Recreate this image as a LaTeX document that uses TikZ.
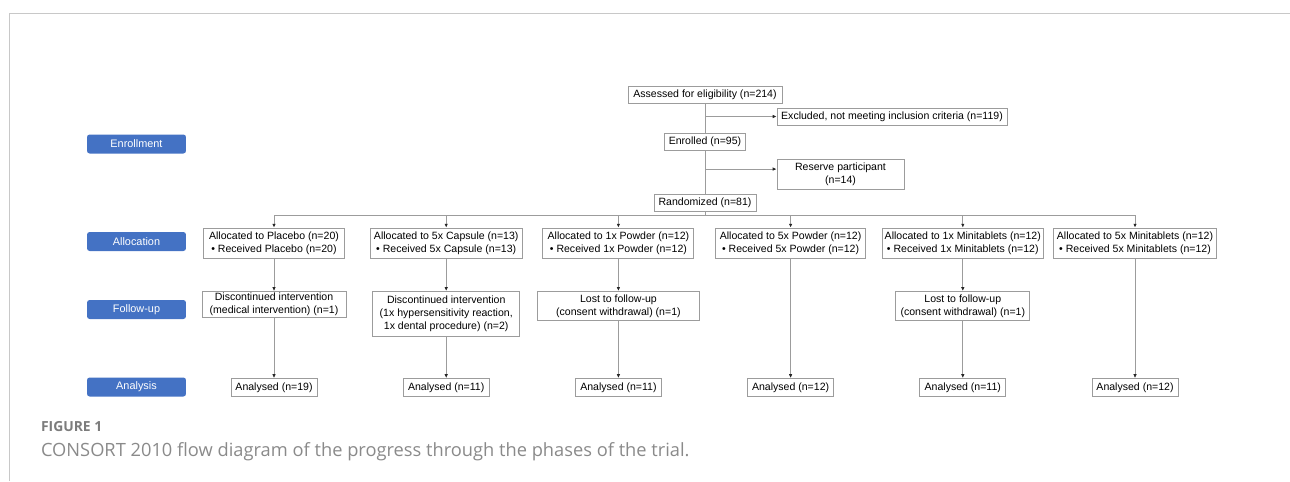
\documentclass[tikz,border=0pt]{standalone}
\usepackage{fontspec}
\setmainfont{Liberation Sans}
\newfontfamily\capfont{Open Sans}
\usetikzlibrary{arrows.meta}
\definecolor{phaseblue}{HTML}{4472C4}
\definecolor{linegray}{HTML}{9C9C9C}
\definecolor{framegray}{HTML}{C8C8C8}
\definecolor{capgray}{HTML}{8A8A8A}

\begin{document}
\begin{tikzpicture}[x=0.02cm, y=-0.02cm,
  box/.style={draw=linegray, line width=0.5pt, align=center, inner sep=1pt,
    font=\fontsize{6}{7.4}\selectfont},
  phase/.style={fill=phaseblue, rounded corners=1.5pt, text=white, inner sep=0pt,
    minimum width=1.98cm, minimum height=0.38cm, font=\fontsize{6.2}{7}\selectfont},
  ln/.style={draw=linegray, line width=0.5pt},
  arr/.style={ln, -{Latex[length=2.2pt,width=2pt,color=black!85]}}]
  \useasboundingbox (0,0) rectangle (1290,481);
  \draw[framegray, line width=0.6pt] (9.5,481) -- (9.5,13.5) -- (1290,13.5);

  % phases
  \node[phase] (penrol) at (136.5,144) {Enrollment};
  \node[phase] (palloc) at (136.5,241.5) {Allocation};
  \node[phase] (pfollow) at (136.5,309.5) {Follow-up};
  \node[phase] (panal) at (136.5,387) {Analysis};

  % enrollment
  \node[box, minimum width=3.08cm, minimum height=0.33cm] (assess) at (705,95) {Assessed for eligibility (n=214)};
  \node[box, minimum width=4.6cm, minimum height=0.34cm] (excl) at (892,116.5) {Excluded, not meeting inclusion criteria (n=119)};
  \node[box, minimum width=1.62cm, minimum height=0.34cm] (enrol) at (705,141.5) {Enrolled (n=95)};
  \node[box, minimum width=2.54cm, minimum height=0.6cm] (resv) at (840.5,174) {Reserve participant\\(n=14)};
  \node[box, minimum width=2.04cm, minimum height=0.34cm] (rand) at (705,202.5) {Randomized (n=81)};
  \coordinate (split) at (705,215);
  \coordinate (rs) at ([yshift=2.8pt]resv.west);

  % allocation
  \node[box, minimum width=2.82cm, minimum height=0.61cm] (a1) at (274,243.3) {Allocated to Placebo (n=20)\\\textbullet\ Received Placebo (n=20)};
  \node[box, minimum width=3.04cm, minimum height=0.61cm] (a2) at (446.2,243.3) {Allocated to 5x Capsule (n=13)\\\textbullet\ Received 5x Capsule (n=13)};
  \node[box, minimum width=3.02cm, minimum height=0.61cm] (a3) at (618.4,243.3) {Allocated to 1x Powder (n=12)\\\textbullet\ Received 1x Powder (n=12)};
  \node[box, minimum width=3.0cm, minimum height=0.61cm] (a4) at (790.6,243.3) {Allocated to 5x Powder (n=12)\\\textbullet\ Received 5x Powder (n=12)};
  \node[box, minimum width=3.22cm, minimum height=0.61cm] (a5) at (962.8,243.3) {Allocated to 1x Minitablets (n=12)\\\textbullet\ Received 1x Minitablets (n=12)};
  \node[box, minimum width=3.26cm, minimum height=0.61cm] (a6) at (1135,243.3) {Allocated to 5x Minitablets (n=12)\\\textbullet\ Received 5x Minitablets (n=12)};

  % follow-up
  \node[box, anchor=north, minimum width=2.88cm, minimum height=0.52cm] (f1) at (274,291) {Discontinued intervention\\(medical intervention) (n=1)};
  \node[box, anchor=north, minimum width=2.94cm, minimum height=0.9cm] (f2) at (446.2,291) {Discontinued intervention\\(1x hypersensitivity reaction,\\1x dental procedure) (n=2)};
  \node[box, anchor=north, minimum width=3.24cm, minimum height=0.58cm] (f3) at (618.4,291) {Lost to follow-up\\(consent withdrawal) (n=1)};
  \node[box, anchor=north, minimum width=2.68cm, minimum height=0.58cm] (f5) at (962.8,291) {Lost to follow-up\\(consent withdrawal) (n=1)};

  % analysis
  \node[box, minimum width=1.72cm, minimum height=0.36cm] (n1) at (274,387.5) {Analysed (n=19)};
  \node[box, minimum width=1.72cm, minimum height=0.36cm] (n2) at (446.2,387.5) {Analysed (n=11)};
  \node[box, minimum width=1.72cm, minimum height=0.36cm] (n3) at (618.4,387.5) {Analysed (n=11)};
  \node[box, minimum width=1.72cm, minimum height=0.36cm] (n4) at (790.6,387.5) {Analysed (n=12)};
  \node[box, minimum width=1.72cm, minimum height=0.36cm] (n5) at (962.8,387.5) {Analysed (n=11)};
  \node[box, minimum width=1.72cm, minimum height=0.36cm] (n6) at (1135,387.5) {Analysed (n=12)};

  \draw[ln] (assess) -- (enrol);
  \draw[ln] (enrol) -- (rand);
  \draw[ln] (rand) -- (split);
  \draw[arr] (assess.south |- excl.west) -- (excl.west);
  \draw[arr] (enrol.south |- rs) -- (rs);
  \draw[ln] (a1.north |- split) -- (a6.north |- split);
  \foreach \i in {1,...,6}
    \draw[arr] (a\i.north |- split) -- (a\i.north);
  \foreach \i in {1,2,3,5} {
    \draw[arr] (a\i) -- (f\i);
    \draw[arr] (f\i) -- (n\i);
  }
  \draw[arr] (a4) -- (n4);
  \draw[arr] (a6) -- (n6);

  % caption
  \node[anchor=base west, inner sep=0pt, text=capgray!90!black,
    font={\capfont\bfseries\fontsize{7.9}{9}\selectfont}] (fig) at (40.7,431.7) {FIGURE 1};
  \node[anchor=base west, inner sep=0pt, text=capgray,
    font={\capfont\fontsize{10.4}{12}\selectfont}] (cap) at (40.7,456.7) {CONSORT 2010 flow diagram of the progress through the phases of the trial.};
\end{tikzpicture}
\end{document}
